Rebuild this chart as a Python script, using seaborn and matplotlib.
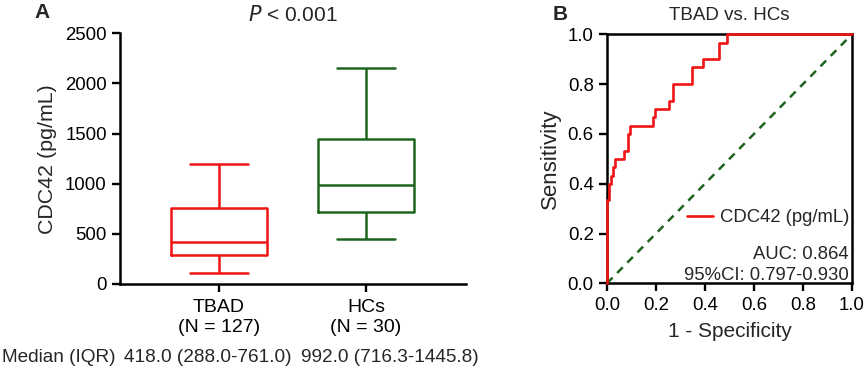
import matplotlib
matplotlib.use("Agg")
import matplotlib.pyplot as plt
import seaborn as sns
import pandas as pd
import numpy as np

# ---- data ----
groups = ["TBAD\n(N = 127)", "HCs\n(N = 30)"]
# five-number summaries (min whisker, Q1, median, Q3, max whisker)
tbad_stats = [110, 288.0, 418.0, 761.0, 1200]
hcs_stats = [445, 716.3, 992.0, 1445.8, 2150]
median_labels = ["418.0 (288.0-761.0)", "992.0 (716.3-1445.8)"]
yticks_box = [0, 500, 1000, 1500, 2000, 2500]

roc_fpr = [0, 0, 0.008, 0.008, 0.016, 0.016, 0.024, 0.024, 0.031, 0.031,
           0.071, 0.071, 0.087, 0.087, 0.094, 0.094, 0.189, 0.189, 0.197, 0.197,
           0.252, 0.252, 0.268, 0.268, 0.346, 0.346, 0.390, 0.390, 0.457, 0.457,
           0.488, 0.488, 1.0]
roc_tpr = [0, 0.333, 0.333, 0.400, 0.400, 0.433, 0.433, 0.467, 0.467, 0.500,
           0.500, 0.533, 0.533, 0.600, 0.600, 0.633, 0.633, 0.667, 0.667, 0.700,
           0.700, 0.733, 0.733, 0.800, 0.800, 0.867, 0.867, 0.900, 0.900, 0.967,
           0.967, 1.0, 1.0]
roc_ticks = [0.0, 0.2, 0.4, 0.6, 0.8, 1.0]

RED = "#f01414"
GREEN = "#1e641e"
TICK_FS = 13.4

sns.set_theme(style="ticks")
plt.rcParams["font.family"] = ["Liberation Sans", "DejaVu Sans"]

fig = plt.figure(figsize=(8.65, 3.69), dpi=100)

# ---------------- panel A ----------------
axA = fig.add_axes([0.1387, 0.2304, 0.4, 0.6794])
df = pd.DataFrame({
    "group": [groups[0]] * len(tbad_stats) + [groups[1]] * len(hcs_stats),
    "value": tbad_stats + hcs_stats,
})
sns.boxplot(data=df, x="group", y="value", hue="group", order=groups,
            palette=[RED, GREEN], fill=False, whis=(0, 100), width=0.65,
            linewidth=1.8, showfliers=False, legend=False, capwidths=0.39,
            ax=axA)
axA.set_xlim(-0.673, 1.68)
axA.set_ylim(0, 2500)
axA.set_yticks(yticks_box)
axA.set_xlabel("")
axA.set_ylabel("CDC42 (pg/mL)", fontsize=15.4, labelpad=6)
axA.tick_params(axis="y", labelsize=TICK_FS, width=1.7, length=6, color="black",
                labelcolor="black")
axA.tick_params(axis="x", labelsize=14, width=1.7, length=6, color="black",
                labelcolor="black", pad=5)
for s in ["top", "right"]:
    axA.spines[s].set_visible(False)
for s in ["left", "bottom"]:
    axA.spines[s].set_linewidth(1.8)
    axA.spines[s].set_color("black")
axA.set_title(r"$\it{P}$ < 0.001", fontsize=15, pad=9)

fig.text(0.002, 0.032, "Median (IQR)", fontsize=13.7, ha="left", va="center")
fig.text(124 / 865, 0.032, median_labels[0], fontsize=13.7, ha="left", va="center")
fig.text(301 / 865, 0.032, median_labels[1], fontsize=13.7, ha="left", va="center")
fig.text(34 / 865, 0.965, "A", fontsize=15, fontweight="bold", ha="left", va="center")

# ---------------- panel B ----------------
axB = fig.add_axes([0.7017, 0.2322, 0.2832, 0.6748])
sns.lineplot(x=[0, 1], y=[0, 1], ax=axB, color=GREEN, linestyle=(0, (3.2, 2.6)),
             linewidth=1.8)
sns.lineplot(x=roc_fpr, y=roc_tpr, ax=axB, sort=False, estimator=None,
             color=RED, linewidth=1.9, label="CDC42 (pg/mL)", zorder=3)
for ln in axB.lines:
    ln.set_clip_on(False)
axB.set_xlim(0, 1)
axB.set_ylim(0, 1)
axB.set_xticks(roc_ticks)
axB.set_yticks(roc_ticks)
axB.set_xticklabels([f"{t:.1f}" for t in roc_ticks])
axB.set_yticklabels([f"{t:.1f}" for t in roc_ticks])
axB.tick_params(axis="both", labelsize=TICK_FS, width=1.7, length=6, color="black",
                labelcolor="black")
for s in axB.spines.values():
    s.set_linewidth(1.8)
    s.set_color("black")
axB.set_xlabel("1 - Specificity", fontsize=15, labelpad=6)
axB.set_ylabel("Sensitivity", fontsize=16, labelpad=5)
axB.set_title("TBAD vs. HCs", fontsize=13.5, pad=10)
leg = axB.legend(loc="lower right", bbox_to_anchor=(1.02, 0.2), frameon=False,
                 fontsize=13.3, handlelength=1.4, handletextpad=0.4,
                 borderaxespad=0.0)
axB.text(0.985, 0.115, "AUC: 0.864", fontsize=13.3, ha="right", va="center",
         transform=axB.transAxes)
axB.text(0.985, 0.032, "95%CI: 0.797-0.930", fontsize=13.3, ha="right", va="center",
         transform=axB.transAxes)
fig.text(553 / 865, 0.962, "B", fontsize=15, fontweight="bold", ha="left", va="center")

fig.savefig("out.png", dpi=100)
